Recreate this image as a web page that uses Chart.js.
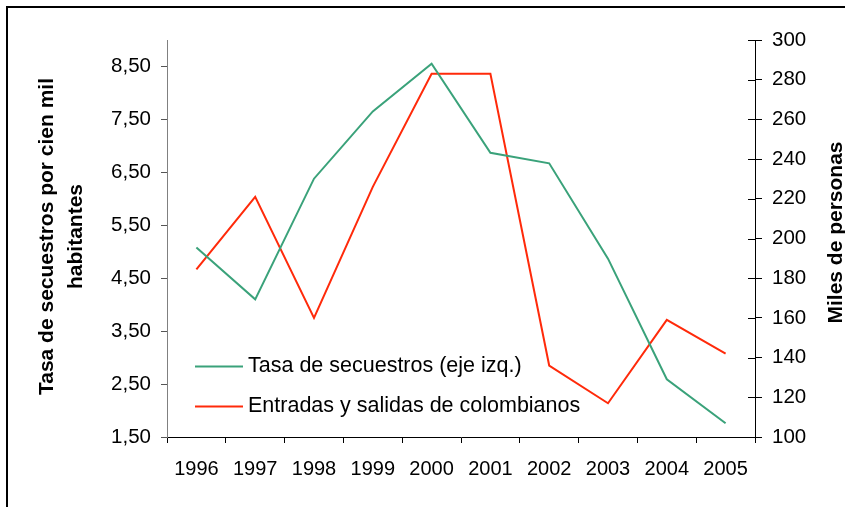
<!DOCTYPE html>
<html>
<head>
<meta charset="utf-8">
<script src="https://cdn.jsdelivr.net/npm/chart.js@4"></script>
<style>
  html, body { margin:0; padding:0; background:#fff; }
  #wrap { width:845px; height:507px; }
</style>
</head>
<body>
<div id="wrap"><canvas id="chart" width="845" height="507"></canvas></div>
<script>
// Secuestros vs. entradas y salidas de colombianos, 1996-2005

const years          = ["1996","1997","1998","1999","2000","2001","2002","2003","2004","2005"];
const tasaSecuestros = [5.08, 4.10, 6.38, 7.65, 8.55, 6.87, 6.67, 4.87, 2.59, 1.76];
const entradasSalidas= [184.5, 221, 160, 226, 283, 283, 136, 117, 159, 142];
const leftTicks      = [1.5, 2.5, 3.5, 4.5, 5.5, 6.5, 7.5, 8.5];
const rightTicks     = [100, 120, 140, 160, 180, 200, 220, 240, 260, 280, 300];

const GREEN = "#3aa27a";
const RED   = "#ff2a0a";
const FONT  = "'Liberation Sans', Arial, sans-serif";

Chart.defaults.font.family = FONT;
Chart.defaults.color = "#000";

// frame, axis titles, inner right ticks, legend
const decor = {
  id: "decor",
  beforeDraw(chart) {
    const c = chart.ctx;
    c.save();
    c.fillStyle = "#fff";
    c.fillRect(0, 0, chart.width, chart.height);
    c.strokeStyle = "#000";
    c.lineWidth = 2;
    c.strokeRect(7, 7, chart.width + 20, chart.height + 20);
    c.restore();
  },
  afterDraw(chart) {
    const c = chart.ctx;
    const yR = chart.scales.yR;
    c.save();

    // right axis ticks also cross inward
    c.strokeStyle = "#000";
    c.lineWidth = 1;
    rightTicks.forEach(v => {
      const y = Math.round(yR.getPixelForValue(v)) + 0.5;
      c.beginPath();
      c.moveTo(yR.left - 7, y);
      c.lineTo(yR.left, y);
      c.stroke();
    });

    // axis titles
    c.fillStyle = "#000";
    c.font = "bold 21px " + FONT;
    c.textAlign = "center";
    c.textBaseline = "alphabetic";
    c.save();
    c.translate(53, 236.5);
    c.rotate(-Math.PI / 2);
    c.fillText("Tasa de secuestros por cien mil", 0, 0);
    c.fillText("habitantes", 0, 28.5);
    c.restore();

    c.save();
    c.translate(842, 232.5);
    c.rotate(-Math.PI / 2);
    c.fillText("Miles de personas", 0, 0);
    c.restore();

    // legend
    c.font = "21.5px " + FONT;
    c.textAlign = "left";
    c.textBaseline = "middle";
    chart.data.datasets.forEach((ds, i) => {
      const y = 366.5 + i * 40;
      c.strokeStyle = ds.borderColor;
      c.lineWidth = 2;
      c.beginPath();
      c.moveTo(195, y);
      c.lineTo(243, y);
      c.stroke();
      c.fillStyle = "#000";
      c.fillText(ds.label, 248, y);
    });
    c.restore();
  }
};

new Chart(document.getElementById("chart"), {
  type: "line",
  data: {
    labels: years,
    datasets: [
      { label: "Tasa de secuestros (eje izq.)", data: tasaSecuestros, yAxisID: "yL",
        borderColor: GREEN, backgroundColor: GREEN, borderWidth: 2, pointRadius: 0, tension: 0 },
      { label: "Entradas y salidas de colombianos", data: entradasSalidas, yAxisID: "yR",
        borderColor: RED, backgroundColor: RED, borderWidth: 2, pointRadius: 0, tension: 0 },
    ],
  },
  options: {
    responsive: false,
    animation: false,
    layout: { padding: { top: 40, left: 0, right: 0, bottom: 0 } },
    plugins: { legend: { display: false }, tooltip: { enabled: false } },
    scales: {
      x: {
        offset: true,
        grid: { offset: true, drawOnChartArea: false, color: "#000", tickLength: 6 },
        border: { color: "#000" },
        ticks: { font: { size: 20 }, color: "#000", padding: 14, maxRotation: 0 },
        afterFit(s) { s.height = 70; },
      },
      yL: {
        position: "left",
        min: 1.5, max: 9,
        afterBuildTicks(s) { s.ticks = leftTicks.map(v => ({ value: v })); },
        grid: { drawOnChartArea: false, color: "#555", tickLength: 6 },
        border: { color: "#808080" },
        ticks: { font: { size: 20.5 }, color: "#000", padding: 10,
                 callback: v => v.toFixed(2).replace(".", ",") },
        afterFit(s) { s.width = 167; },
      },
      yR: {
        position: "right",
        min: 100, max: 300,
        afterBuildTicks(s) { s.ticks = rightTicks.map(v => ({ value: v })); },
        grid: { drawOnChartArea: false, color: "#000", tickLength: 7 },
        border: { color: "#000" },
        ticks: { font: { size: 20.5 }, color: "#000", padding: 10 },
        afterFit(s) { s.width = 90; },
      },
    },
  },
  plugins: [decor],
});
</script>
</body>
</html>
